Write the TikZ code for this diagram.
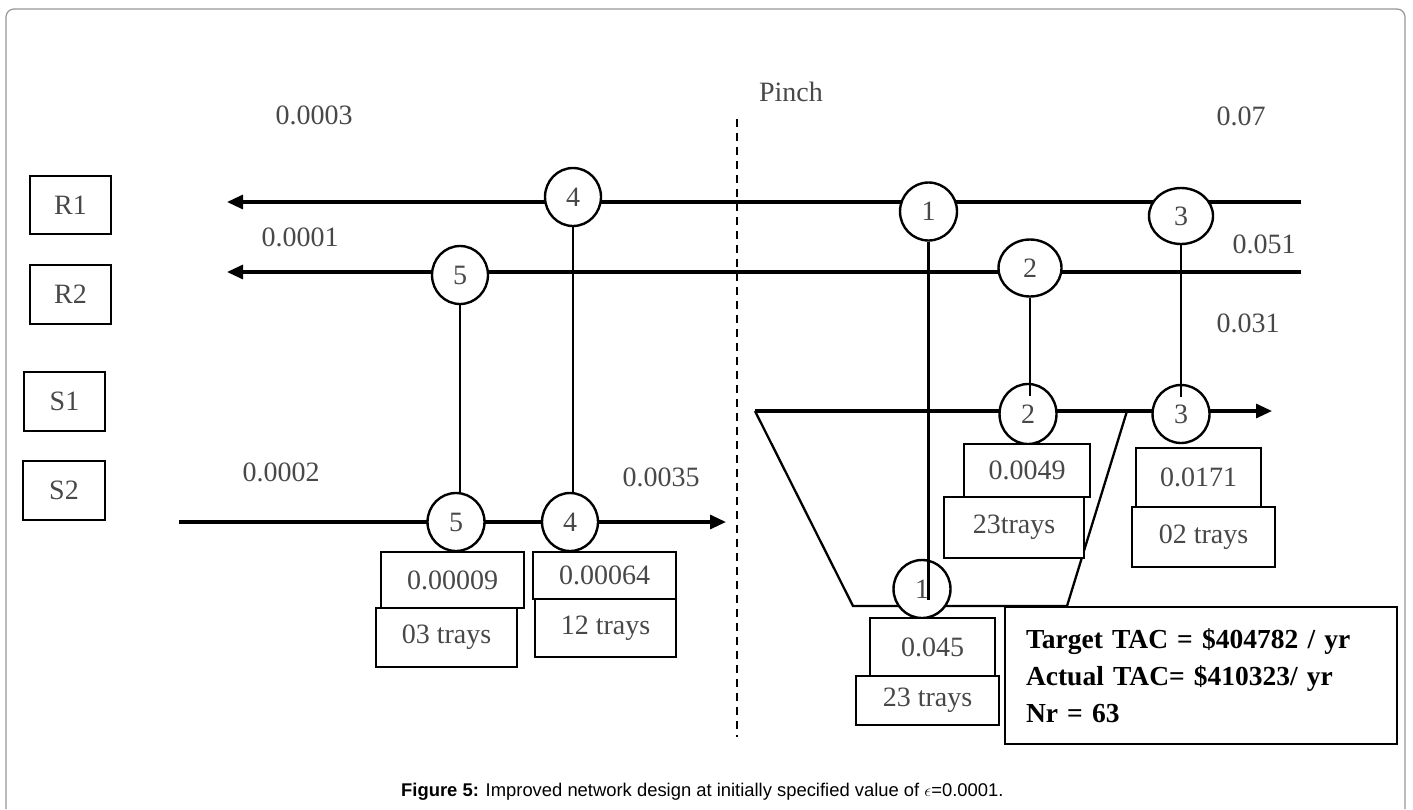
\documentclass[tikz,border=0pt]{standalone}
\usepackage{fontspec}
\setmainfont{Liberation Serif}
\newfontfamily\capfont{Liberation Sans}
\usetikzlibrary{arrows.meta,shapes.geometric}
\definecolor{txt}{RGB}{72,72,72}
\definecolor{framecol}{RGB}{150,150,150}
\newcommand{\dfont}{\fontsize{28}{33}\selectfont}
\tikzset{
  framebox/.style={draw=framecol,line width=1.2pt,rounded corners=8pt},
  stream/.style={line width=3.1pt},
  tip/.style={-{Triangle[length=16pt,width=14pt]}},
  hx/.style={ellipse,draw,line width=2.4pt,fill=white,inner sep=0pt,minimum width=57pt,minimum height=58pt,font=\dfont,text=txt},
  link/.style={line width=2.2pt},
  tbox/.style={rectangle,draw,line width=2.6pt,fill=white,inner sep=0pt,font=\dfont,text=txt},
  lbl/.style={inner sep=0pt,font=\dfont,text=txt},
  trap/.style={line width=2.3pt},
  pinchline/.style={line width=2.2pt,dash pattern=on 8pt off 6pt}
}
\begin{document}
\begin{tikzpicture}[x=1pt,y=-1pt]
\useasboundingbox (0,0) rectangle (1413,809);
% outer frame
\draw[framebox] (6,809) -- (6,9) -- (1405,9) -- (1405,809);

% stream end points
\coordinate (r1s) at (1301,202); \coordinate (r1e) at (227,202);
\coordinate (r2s) at (1301,272); \coordinate (r2e) at (227,272);
\coordinate (s1s) at (755,411);  \coordinate (s1e) at (1272,411);
\coordinate (s2s) at (179,522);  \coordinate (s2e) at (726,522);
\coordinate (pt) at (737,119);   \coordinate (pb) at (737,737);
\coordinate (tr1) at (853,606);  \coordinate (tr2) at (1067,606);
\coordinate (tr3) at (1127,411);

% pinch
\draw[pinchline] (pt) -- (pb);
\node[lbl] (pinch) at (791,92) {Pinch};

% trapezoid
\draw[trap] (s1s) -- (tr1) -- (tr2) -- (tr3);

% streams
\draw[stream,tip] (r1s) -- (r1e);
\draw[stream,tip] (r2s) -- (r2e);
\draw[stream,tip] (s1s) -- (s1e);
\draw[stream,tip] (s2s) -- (s2e);

% stream boxes
\node[tbox,minimum width=81pt,minimum height=58pt] (R1) at (70.5,205) {R1};
\node[tbox,minimum width=81pt,minimum height=59pt] (R2) at (70.5,294.5) {R2};
\node[tbox,minimum width=81pt,minimum height=59pt] (S1) at (64.5,401.5) {S1};
\node[tbox,minimum width=82pt,minimum height=59pt] (S2) at (64,490.5) {S2};

% exchangers
\node[hx,minimum width=56pt] (c4a) at (573,197) {4};
\node[hx] (c1a) at (928.5,211.5) {1};
\node[hx,minimum width=64pt,minimum height=56pt] (c3a) at (1181,216) {3};
\node[hx,minimum width=56pt] (c5a) at (460,275) {5};
\node[hx,minimum width=63pt,minimum height=57pt] (c2a) at (1030,268) {2};
\node[hx,minimum height=60pt] (c2b) at (1028,414) {2};
\node[hx] (c3b) at (1181,414) {3};
\node[hx] (c5b) at (456,522) {5};
\node[hx,minimum width=56pt] (c4b) at (570,522) {4};
\node[hx] (c1b) at (922,589) {1};

% matches
\draw[link] (c4a.south) -- (c4a.south |- c4b.north);
\draw[link] (c5a.south) -- (c5a.south |- c5b.north);
\draw[link] (c1a.south) -- ([yshift=-11pt]c1a.south |- c1b.center);
\draw[link] (c2a.south) -- ([yshift=-13pt]c2a.south |- c2b.north);
\draw[link] (c3a.south) -- ([yshift=-13pt]c3a.south |- c3b.north);

% result boxes
\node[tbox,minimum width=143pt,minimum height=56pt] (b5a) at (452.5,580) {0.00009};
\node[tbox,minimum width=141pt,minimum height=59pt] (b5b) at (446.5,637.5) {03 trays};
\node[tbox,minimum width=143pt,minimum height=47pt] (b4a) at (604.5,575.5) {0.00064};
\node[tbox,minimum width=141pt,minimum height=58pt] (b4b) at (605.5,628) {12 trays};
\node[tbox,minimum width=126pt,minimum height=53pt] (b2a) at (1027,470.5) {0.0049};
\node[tbox,minimum width=140pt,minimum height=61pt] (b2b) at (1014,527.5) {23trays};
\node[tbox,minimum width=125pt,minimum height=59pt] (b3a) at (1198.5,477.5) {0.0171};
\node[tbox,minimum width=143pt,minimum height=60pt] (b3b) at (1203.5,537) {02 trays};
\node[tbox,minimum width=125pt,minimum height=58pt] (b1a) at (932.5,647) {0.045};
\node[tbox,minimum width=143pt,minimum height=49pt] (b1b) at (927.5,700.5) {23 trays};

% summary
\node[rectangle,draw,line width=2.6pt,fill=white,minimum width=392pt,minimum height=137pt,
      text width=350pt,inner xsep=21pt,inner ysep=0pt,align=left,
      font=\fontsize{27.5}{37}\selectfont\bfseries] (tac) at (1201,675.5)
  {Target TAC = \$404782 / yr\\Actual TAC= \$410323/ yr\\Nr = 63};

% concentration labels
\node[lbl] (l1) at (314,115) {0.0003};
\node[lbl] (l2) at (300,237) {0.0001};
\node[lbl] (l3) at (1241,116) {0.07};
\node[lbl] (l4) at (1264,244) {0.051};
\node[lbl] (l5) at (1248,323) {0.031};
\node[lbl] (l6) at (281,472) {0.0002};
\node[lbl] (l7) at (661,477) {0.0035};

% caption
\node[anchor=base west,inner sep=0pt,font=\capfont\fontsize{18.4}{22}\selectfont] (cap) at (401,796)
  {\textbf{Figure 5:} Improved network design at initially specified value of $\epsilon$=0.0001.};
\end{tikzpicture}
\end{document}
